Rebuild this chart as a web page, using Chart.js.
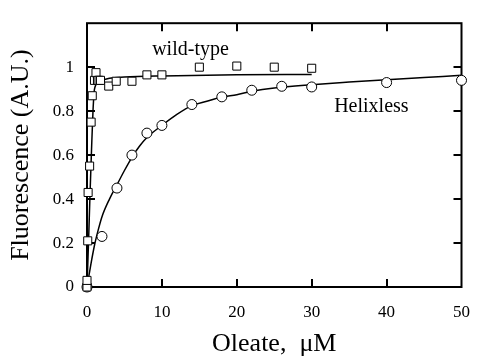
<!DOCTYPE html>
<html>
<head>
<meta charset="utf-8">
<script src="https://cdn.jsdelivr.net/npm/chart.js@4.4.0/dist/chart.umd.min.js"></script>
<style>
  html, body { margin: 0; padding: 0; background: #fff; }
  #wrap { width: 485px; height: 356px; }
</style>
</head>
<body>
<div id="wrap"><canvas id="fluo-chart" width="485" height="356"></canvas></div>
<script>
// Measured points, wild-type (squares)
const wtX = [0, 0, 0.1, 0.15, 0.35, 0.55, 0.7, 1.0, 1.2, 1.4, 1.6, 1.8, 2.9, 3.9, 6, 8, 10, 15, 20, 25, 30];
const wtY = [0, 0.03, 0.21, 0.43, 0.55, 0.75, 0.87, 0.94, 0.975, 0.94, 0.94, 0.94, 0.914, 0.936, 0.936, 0.965, 0.965, 1.0, 1.005, 1.0, 0.995];

// Measured points, Helixless (circles)
const hlX = [0, 2, 4, 6, 8, 10, 14, 18, 22, 26, 30, 40, 50];
const hlY = [0, 0.23, 0.45, 0.60, 0.70, 0.735, 0.83, 0.865, 0.895, 0.913, 0.91, 0.93, 0.94];

// Fitted curves
const wtFitX = [0, 0.2, 0.4, 0.6, 0.8, 1, 1.5, 2, 3, 5, 10, 20, 30];
const wtFitY = [0, 0.2, 0.42, 0.62, 0.8, 0.9, 0.93, 0.94, 0.95, 0.955, 0.96, 0.965, 0.967];
const hlFitX = [0, 0.5, 1, 1.5, 2, 3, 4, 5, 6, 7, 8, 10, 12, 14, 16, 18, 20, 22, 25, 30, 35, 40, 45, 50];
const hlFitY = [0, 0.1, 0.19, 0.26, 0.32, 0.4, 0.465, 0.53, 0.59, 0.64, 0.68, 0.735, 0.785, 0.825, 0.845, 0.864, 0.875, 0.89, 0.905, 0.92, 0.932, 0.943, 0.953, 0.963];

// Axis ticks
const xTicks = [0, 10, 20, 30, 40, 50];
const yTicks = [0, 0.2, 0.4, 0.6, 0.8, 1];

const SERIF = "'Liberation Serif', 'Times New Roman', serif";

function toPoints(xs, ys) {
    return xs.map((x, i) => ({ x: x, y: ys[i] }));
}

// Frame box with inward tick marks on all four sides
const framePlugin = {
    id: 'frame',
    beforeDatasetsDraw(chart) {
        const { ctx, chartArea: a, scales } = chart;
        const len = 8;
        ctx.save();
        ctx.strokeStyle = '#000';
        ctx.lineWidth = 2;
        ctx.strokeRect(a.left, a.top, a.right - a.left, a.bottom - a.top);
        ctx.beginPath();
        xTicks.slice(1, -1).forEach(v => {
            const px = Math.round(scales.x.getPixelForValue(v));
            ctx.moveTo(px, a.bottom); ctx.lineTo(px, a.bottom - len);
            ctx.moveTo(px, a.top); ctx.lineTo(px, a.top + len);
        });
        yTicks.slice(1).forEach(v => {
            const py = Math.round(scales.y.getPixelForValue(v));
            ctx.moveTo(a.left, py); ctx.lineTo(a.left + len, py);
            ctx.moveTo(a.right, py); ctx.lineTo(a.right - len, py);
        });
        ctx.stroke();
        ctx.restore();
    }
};

// Series names written inside the plot
const labelPlugin = {
    id: 'seriesLabels',
    afterDatasetsDraw(chart) {
        const { ctx, scales } = chart;
        ctx.save();
        ctx.fillStyle = '#000';
        ctx.font = '20px ' + SERIF;
        ctx.textBaseline = 'middle';
        ctx.textAlign = 'left';
        ctx.fillText('wild-type', scales.x.getPixelForValue(8.7), scales.y.getPixelForValue(1.078));
        ctx.fillText('Helixless', scales.x.getPixelForValue(33), scales.y.getPixelForValue(0.82));
        ctx.restore();
    }
};

const ctx = document.getElementById('fluo-chart').getContext('2d');
new Chart(ctx, {
    type: 'scatter',
    data: {
        datasets: [
            {
                label: 'wild-type fit',
                data: toPoints(wtFitX, wtFitY),
                showLine: true,
                pointRadius: 0,
                borderColor: '#000',
                borderWidth: 1.5,
                cubicInterpolationMode: 'monotone',
                order: 2
            },
            {
                label: 'Helixless fit',
                data: toPoints(hlFitX, hlFitY),
                showLine: true,
                pointRadius: 0,
                borderColor: '#000',
                borderWidth: 1.5,
                cubicInterpolationMode: 'monotone',
                order: 2
            },
            {
                label: 'wild-type',
                data: toPoints(wtX, wtY),
                pointStyle: 'rect',
                pointRadius: 5.7,
                borderWidth: 1,
                borderColor: '#000',
                backgroundColor: '#fff',
                clip: false,
                order: 1
            },
            {
                label: 'Helixless',
                data: toPoints(hlX, hlY),
                pointStyle: 'circle',
                pointRadius: 5,
                borderWidth: 1,
                borderColor: '#000',
                backgroundColor: '#fff',
                clip: false,
                order: 1
            }
        ]
    },
    options: {
        responsive: false,
        animation: false,
        layout: { padding: { top: 11, right: 11, left: 0, bottom: 0 } },
        plugins: {
            legend: { display: false },
            tooltip: { enabled: false }
        },
        scales: {
            x: {
                type: 'linear',
                min: 0,
                max: 50,
                afterFit: scale => { scale.height = 69; },
                afterBuildTicks: scale => { scale.ticks = xTicks.map(v => ({ value: v })); },
                grid: { display: false, drawTicks: false },
                border: { display: false },
                ticks: {
                    color: '#000',
                    padding: 15,
                    maxRotation: 0,
                    font: { family: SERIF, size: 17 }
                },
                title: {
                    display: true,
                    text: 'Oleate,  \u03BCM',
                    color: '#000',
                    font: { family: SERIF, size: 26, lineHeight: 0.92 },
                    padding: { top: 0, bottom: 0 }
                }
            },
            y: {
                type: 'linear',
                min: 0,
                max: 1.2,
                afterFit: scale => { scale.width = 87; },
                afterBuildTicks: scale => { scale.ticks = yTicks.map(v => ({ value: v })); },
                grid: { display: false, drawTicks: false },
                border: { display: false },
                ticks: {
                    color: '#000',
                    padding: 13,
                    font: { family: SERIF, size: 17 },
                    callback: v => String(Math.round(v * 10) / 10)
                },
                title: {
                    display: true,
                    text: 'Fluorescence (A.U.)',
                    color: '#000',
                    font: { family: SERIF, size: 26 },
                    padding: { top: 6, bottom: 0 }
                }
            }
        }
    },
    plugins: [framePlugin, labelPlugin]
});
</script>
</body>
</html>
